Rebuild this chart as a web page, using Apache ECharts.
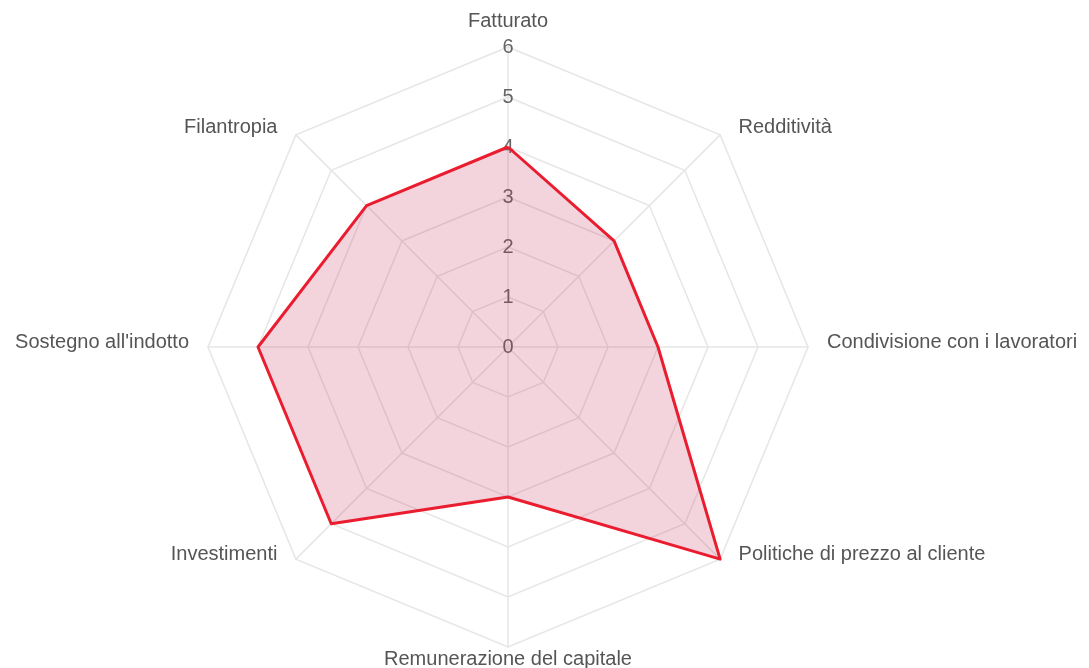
<!DOCTYPE html>
<html>
<head>
<meta charset="utf-8">
<script src="https://cdn.jsdelivr.net/npm/echarts@6/dist/echarts.min.js"></script>
<style>
  html, body { margin: 0; padding: 0; background: #fff; }
  #chart { width: 1089px; height: 668px; }
</style>
</head>
<body>
<div id="chart"></div>
<script>
  // echarts lays radar indicators out counterclockwise from the top
  var categories = ['Fatturato', 'Filantropia', "Sostegno all'indotto", 'Investimenti',
    'Remunerazione del capitale', 'Politiche di prezzo al cliente', 'Condivisione con i lavoratori', 'Redditività'];
  var values = [4, 4, 5, 5, 3, 6, 3, 3];
  var tickLabels = ['0', '1', '2', '3', '4', '5', '6'];
  var maxValue = 6;

  var chart = echarts.init(document.getElementById('chart'));
  var center = [508, 347];
  var gridColor = '#e6e6e6';
  var nameFont = { color: '#555', fontSize: 20, fontFamily: 'Liberation Sans' };

  // label padding depends on where the label sits around the web
  function nameStyle(i) {
    if (i === 0) return 't';
    if (i === 4) return 'b';
    if (i === 2 || i === 6) return 's';
    return 'd';
  }

  var option = {
    animation: false,
    radar: {
      center: center,
      radius: 300,
      startAngle: 90,
      shape: 'polygon',
      splitNumber: 6,
      indicator: categories.map(function (c) { return { name: c, min: 0, max: maxValue }; }),
      nameGap: 2,
      axisName: {
        color: '#555',
        fontSize: 20,
        fontFamily: 'Liberation Sans',
        formatter: function (name) {
          return '{' + nameStyle(categories.indexOf(name)) + '|' + name + '}';
        },
        rich: {
          t: Object.assign({ padding: [0, 0, 14, 0] }, nameFont),
          b: Object.assign({ padding: [0, 0, 0, 0] }, nameFont),
          s: Object.assign({ padding: [0, 17, 10, 17] }, nameFont),
          d: Object.assign({ padding: [0, 17, 12, 17] }, nameFont)
        }
      },
      splitArea: { show: false },
      splitLine: { lineStyle: { color: gridColor, width: 1.5 } },
      axisLine: { lineStyle: { color: gridColor, width: 1.5 } }
    },
    polar: {
      center: center,
      radius: 300
    },
    angleAxis: {
      startAngle: 90,
      show: false,
      type: 'value',
      min: 0,
      max: 360
    },
    radiusAxis: {
      type: 'value',
      min: 0,
      max: maxValue,
      interval: 1,
      axisLine: { show: false },
      axisTick: { show: false },
      splitLine: { show: false },
      axisLabel: {
        show: true,
        margin: 0,
        align: 'center',
        verticalAlign: 'middle',
        color: '#666',
        fontSize: 20,
        fontFamily: 'Liberation Sans',
        formatter: function (v) { return tickLabels[v]; }
      }
    },
    series: [{
      type: 'radar',
      symbol: 'none',
      lineStyle: { color: '#ee1c2c', width: 3 },
      areaStyle: { color: 'rgba(200, 40, 80, 0.2)', opacity: 1 },
      data: [{ value: values }],
      z: 1
    }]
  };
  chart.setOption(option);
</script>
</body>
</html>
